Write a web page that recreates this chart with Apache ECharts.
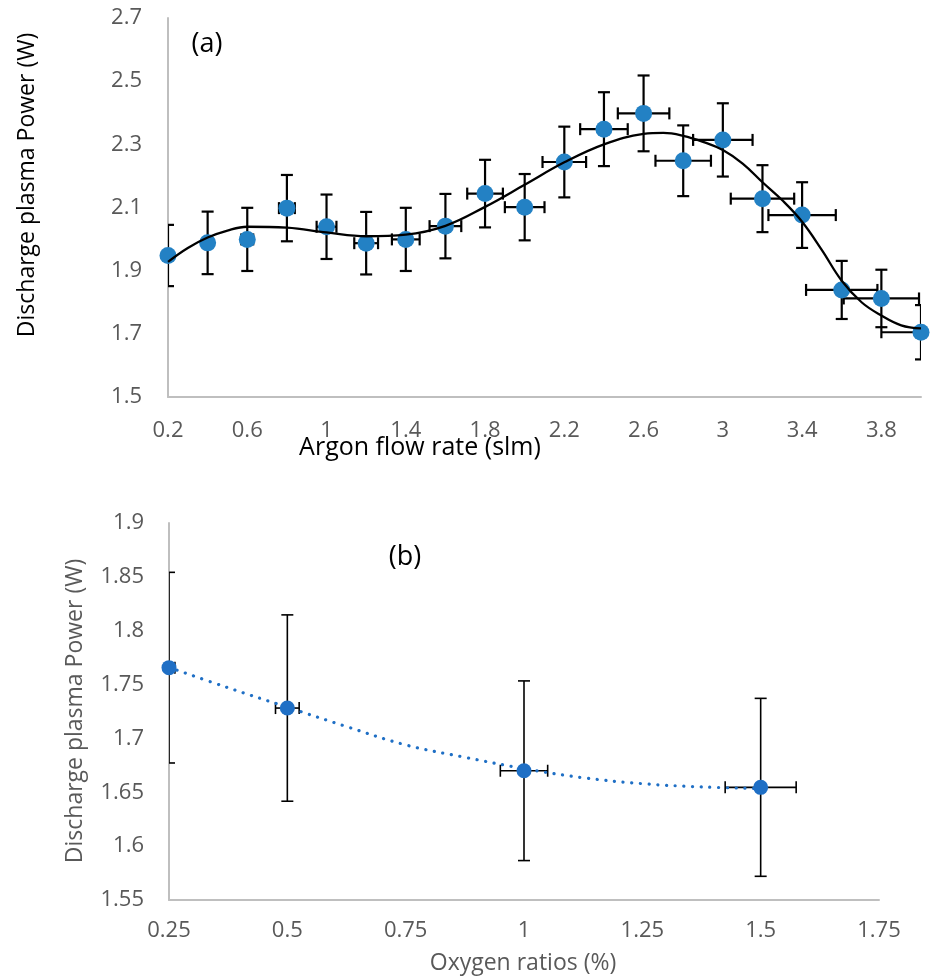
<!DOCTYPE html>
<html>
<head>
<meta charset="utf-8">
<script src="https://cdn.jsdelivr.net/npm/echarts@6/dist/echarts.min.js"></script>
<style>
html,body{margin:0;padding:0;background:#fff;}
#chart{width:932px;height:977px;}
</style>
</head>
<body>
<div id="chart"></div>
<script>
// ---- Panel (a): Argon flow rate ----
const argonFlow  = [0.2, 0.4, 0.6, 0.8, 1.0, 1.2, 1.4, 1.6, 1.8, 2.0, 2.2, 2.4, 2.6, 2.8, 3.0, 3.2, 3.4, 3.6, 3.8, 4.0];
const argonPower = [1.948, 1.988, 1.999, 2.098, 2.039, 1.987, 1.999, 2.041, 2.144, 2.101, 2.244, 2.348, 2.398, 2.248, 2.314, 2.128, 2.076, 1.839, 1.812, 1.705];
const argonPowerErr = [0.097, 0.099, 0.100, 0.105, 0.102, 0.099, 0.100, 0.102, 0.107, 0.105, 0.112, 0.117, 0.120, 0.112, 0.116, 0.106, 0.104, 0.092, 0.091, 0.086];
const argonFlowErr  = [0.01, 0.02, 0.03, 0.04, 0.05, 0.06, 0.07, 0.08, 0.09, 0.10, 0.11, 0.12, 0.13, 0.14, 0.15, 0.16, 0.17, 0.18, 0.19, 0.20];
const argonFitX = [0.2, 0.3, 0.4, 0.5, 0.6, 0.8, 1.0, 1.2, 1.4, 1.6, 1.8, 2.0, 2.2, 2.4, 2.6, 2.7, 2.8, 2.9, 3.0, 3.1, 3.2, 3.3, 3.4, 3.5, 3.6, 3.7, 3.8, 3.9, 4.0];
const argonFitY = [1.928, 1.972, 2.005, 2.027, 2.039, 2.036, 2.021, 2.009, 2.014, 2.042, 2.102, 2.172, 2.243, 2.300, 2.333, 2.336, 2.327, 2.308, 2.282, 2.239, 2.180, 2.123, 2.055, 1.965, 1.868, 1.800, 1.758, 1.727, 1.717];
const argonXTicks = [0.2, 0.6, 1.0, 1.4, 1.8, 2.2, 2.6, 3.0, 3.4, 3.8];
const argonYTicks = [1.5, 1.7, 1.9, 2.1, 2.3, 2.5, 2.7];

// ---- Panel (b): Oxygen ratio ----
const oxygenRatio = [0.25, 0.5, 1.0, 1.5];
const oxygenPower = [1.7657, 1.7282, 1.6700, 1.6546];
const oxygenPowerErr = [0.0885, 0.0865, 0.0834, 0.0826];
const oxygenRatioErr = [0.0125, 0.025, 0.05, 0.075];
const oxygenFitX = [0.25, 0.375, 0.5, 0.625, 0.75, 0.875, 1.0, 1.125, 1.25, 1.375, 1.5];
const oxygenFitY = [1.766, 1.747, 1.729, 1.711, 1.694, 1.6825, 1.672, 1.6635, 1.658, 1.655, 1.6535];
const oxygenXTicks = [0.25, 0.5, 0.75, 1.0, 1.25, 1.5, 1.75];
const oxygenYTicks = [1.55, 1.6, 1.65, 1.7, 1.75, 1.8, 1.85, 1.9];

const FONT = '"Open Sans", Lato, sans-serif';
const GREY = '#595959';

function zip(a, b) { return a.map((v, i) => [v, b[i]]); }
function errData(xs, ys, xe, ye) { return xs.map((v, i) => [v, ys[i], xe[i], ye[i]]); }

function makeErrRender(cap, lw) {
  return function (params, api) {
    const x = api.value(0), y = api.value(1), xe = api.value(2), ye = api.value(3);
    const c = api.coord([x, y]);
    const yt = api.coord([x, y + ye]);
    const yb = api.coord([x, y - ye]);
    const xl = api.coord([x - xe, y]);
    const xr = api.coord([x + xe, y]);
    const style = { stroke: '#000', lineWidth: lw, fill: null };
    const children = [
      { type: 'line', shape: { x1: c[0], y1: yt[1], x2: c[0], y2: yb[1] }, style },
      { type: 'line', shape: { x1: c[0] - cap, y1: yt[1], x2: c[0] + cap, y2: yt[1] }, style },
      { type: 'line', shape: { x1: c[0] - cap, y1: yb[1], x2: c[0] + cap, y2: yb[1] }, style },
      { type: 'line', shape: { x1: xl[0], y1: c[1], x2: xr[0], y2: c[1] }, style },
      { type: 'line', shape: { x1: xl[0], y1: c[1] - cap, x2: xl[0], y2: c[1] + cap }, style },
      { type: 'line', shape: { x1: xr[0], y1: c[1] - cap, x2: xr[0], y2: c[1] + cap }, style }
    ];
    return { type: 'group', children };
  };
}

const axisLineStyle = { show: true, lineStyle: { color: '#BFBFBF', width: 2 } };
const fmt = v => String(+v.toFixed(2));

const chart = echarts.init(document.getElementById('chart'), null, { renderer: 'canvas' });
chart.setOption({
  animation: false,
  backgroundColor: '#fff',
  grid: [
    { left: 168, top: 18, width: 753, height: 379 },
    { left: 169, top: 523, width: 710, height: 377 }
  ],
  xAxis: [
    {
      type: 'value', gridIndex: 0, min: 0.2, max: 4.0,
      axisLine: axisLineStyle, axisTick: { show: false }, splitLine: { show: false },
      axisLabel: { customValues: argonXTicks, color: GREY, fontFamily: FONT, fontSize: 22, margin: 23, formatter: fmt }
    },
    {
      type: 'value', gridIndex: 1, min: 0.25, max: 1.75,
      axisLine: axisLineStyle, axisTick: { show: false }, splitLine: { show: false },
      axisLabel: { customValues: oxygenXTicks, color: GREY, fontFamily: FONT, fontSize: 22, margin: 20, formatter: fmt }
    }
  ],
  yAxis: [
    {
      type: 'value', gridIndex: 0, min: 1.5, max: 2.7,
      axisLine: axisLineStyle, axisTick: { show: false }, splitLine: { show: false },
      axisLabel: { customValues: argonYTicks, color: GREY, fontFamily: FONT, fontSize: 22, margin: 26, formatter: fmt }
    },
    {
      type: 'value', gridIndex: 1, min: 1.55, max: 1.9,
      axisLine: axisLineStyle, axisTick: { show: false }, splitLine: { show: false },
      axisLabel: { customValues: oxygenYTicks, color: GREY, fontFamily: FONT, fontSize: 22, margin: 25, formatter: fmt }
    }
  ],
  series: [
    {
      type: 'custom', xAxisIndex: 0, yAxisIndex: 0, clip: true, z: 1,
      renderItem: makeErrRender(6, 2.2),
      data: errData(argonFlow, argonPower, argonFlowErr, argonPowerErr)
    },
    {
      type: 'scatter', xAxisIndex: 0, yAxisIndex: 0, z: 2, symbolSize: 17,
      itemStyle: { color: '#2381C4', opacity: 1 },
      data: zip(argonFlow, argonPower)
    },
    {
      type: 'line', xAxisIndex: 0, yAxisIndex: 0, z: 3, smooth: 0.4, showSymbol: false,
      lineStyle: { color: '#000', width: 2.3 },
      data: zip(argonFitX, argonFitY)
    },
    {
      type: 'custom', xAxisIndex: 1, yAxisIndex: 1, clip: true, z: 1,
      renderItem: makeErrRender(6, 1.6),
      data: errData(oxygenRatio, oxygenPower, oxygenRatioErr, oxygenPowerErr)
    },
    {
      type: 'line', xAxisIndex: 1, yAxisIndex: 1, z: 2, smooth: 0.4, showSymbol: false,
      lineStyle: { color: '#1F6FC5', width: 3.2, type: [0.1, 8.6], cap: 'round' },
      data: zip(oxygenFitX, oxygenFitY)
    },
    {
      type: 'scatter', xAxisIndex: 1, yAxisIndex: 1, z: 3, symbolSize: 15,
      itemStyle: { color: '#1F6FC5', opacity: 1 },
      data: zip(oxygenRatio, oxygenPower)
    }
  ],
  graphic: [
    { type: 'text', x: 207, y: 44, style: { text: '(a)', font: '27px ' + FONT, fill: '#000', align: 'center', verticalAlign: 'middle' } },
    { type: 'text', x: 405, y: 557, style: { text: '(b)', font: '27px ' + FONT, fill: '#000', align: 'center', verticalAlign: 'middle' } },
    { type: 'text', x: 420, y: 448, style: { text: 'Argon flow rate (slm)', font: '25px ' + FONT, fill: '#000', align: 'center', verticalAlign: 'middle' } },
    { type: 'text', x: 523, y: 963, style: { text: 'Oxygen ratios (%)', font: '23px ' + FONT, fill: GREY, align: 'center', verticalAlign: 'middle' } },
    { type: 'text', x: 27, y: 185, rotation: Math.PI / 2, style: { text: 'Discharge plasma Power (W)', font: '23px ' + FONT, fill: '#000', align: 'center', verticalAlign: 'middle' } },
    { type: 'text', x: 75, y: 711, rotation: Math.PI / 2, style: { text: 'Discharge plasma Power (W)', font: '23px ' + FONT, fill: GREY, align: 'center', verticalAlign: 'middle' } }
  ]
});
</script>
</body>
</html>
